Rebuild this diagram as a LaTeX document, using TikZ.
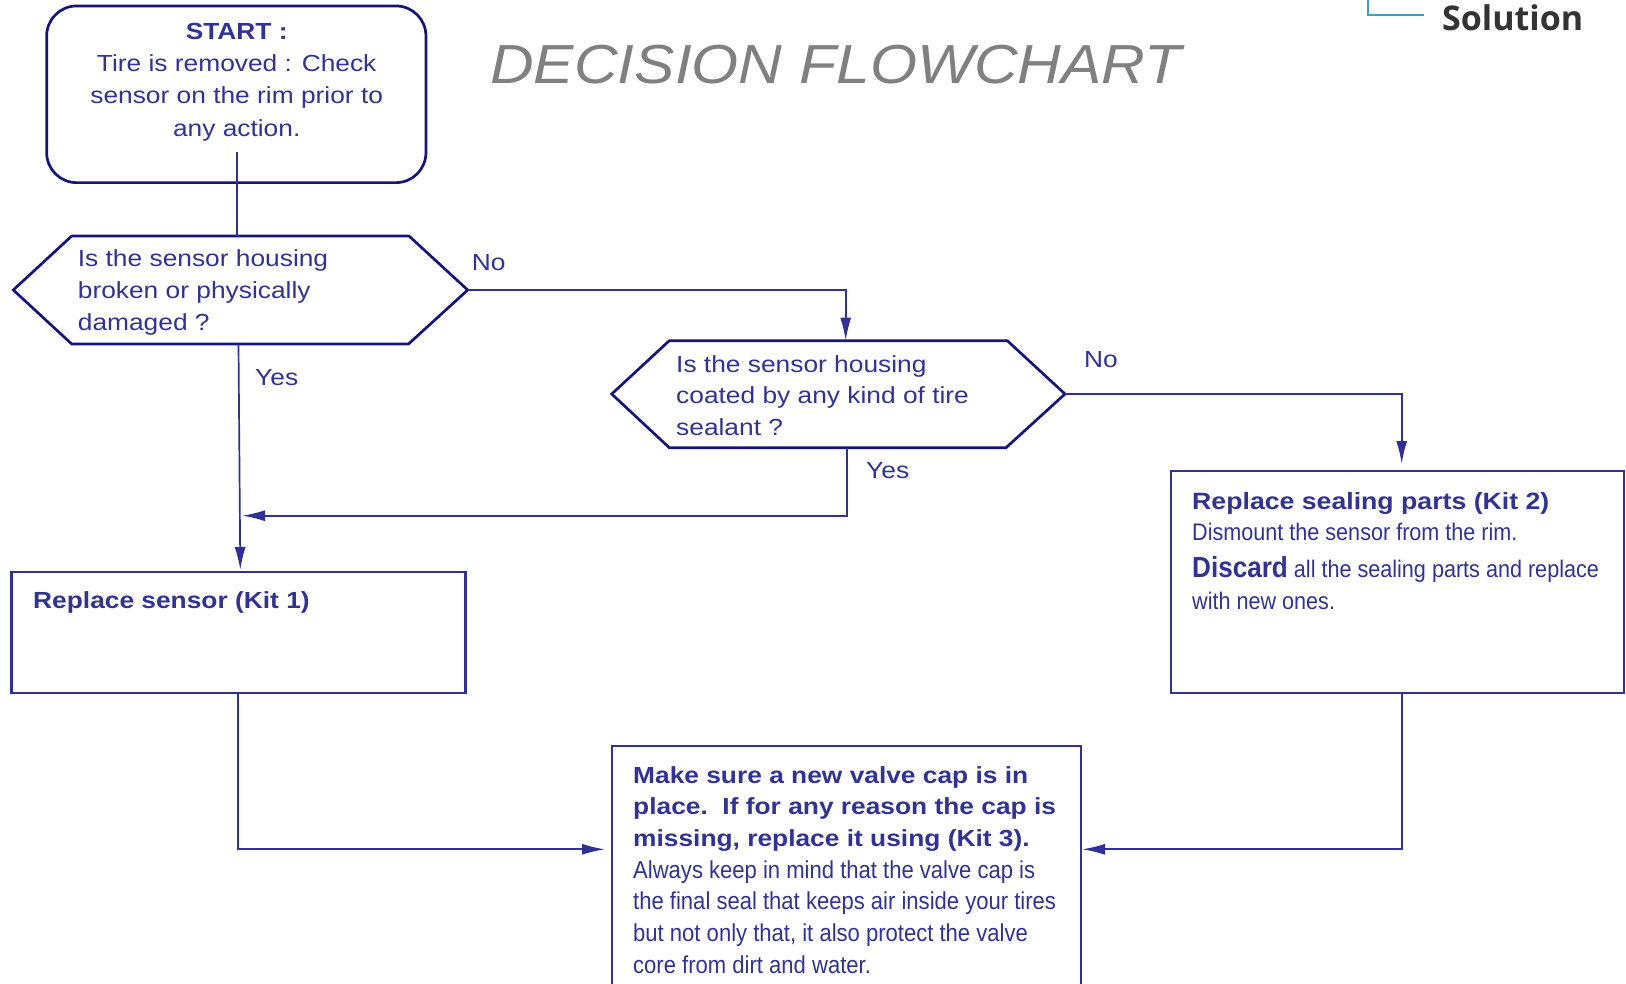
\documentclass[tikz,border=0pt]{standalone}
\usepackage{fontspec}
\setmainfont[FakeStretch=1.13]{Liberation Sans}
\newfontfamily\narrowfont[FakeStretch=0.9]{Liberation Sans}
\newfontfamily\titlefont[FakeStretch=1.1]{Liberation Sans}
\newfontfamily\logofont{Open Sans}
\usetikzlibrary{arrows.meta}

\definecolor{inkblue}{RGB}{48,50,150}
\definecolor{edgeblue}{RGB}{48,48,152}
\definecolor{hexnavy}{RGB}{20,20,125}
\definecolor{titlegray}{RGB}{128,128,128}
\definecolor{logogray}{RGB}{51,51,51}
\definecolor{logoteal}{RGB}{55,160,195}

\tikzset{
  txt/.style={inner sep=0pt, text=inkblue, font=\fontsize{23.3}{32}\selectfont},
  boxtxt/.style={txt, anchor=north west, align=left},
  actbox/.style={draw=edgeblue, line width=2.4pt, inner sep=0pt},
  hexline/.style={draw=hexnavy, line width=2.7pt, line join=miter},
  flow/.style={draw=edgeblue, line width=1.7pt},
  flowarr/.style={flow, -{Latex[length=23pt,width=11pt]}}
}

\begin{document}
\begin{tikzpicture}[x=1pt,y=-1pt]

\useasboundingbox (0,0) rectangle (1626,984);
\clip (0,0) rectangle (1626,984);

% Draw the title and the logo corner
\node[inner sep=0pt, anchor=base west, text=titlegray,
  font=\titlefont\itshape\fontsize{55}{60}\selectfont] (title) at (490,84) {DECISION FLOWCHART};
\node[inner sep=0pt, anchor=base west, text=logogray,
  font=\logofont\bfseries\fontsize{34}{40}\selectfont] (logo) at (1442,31) {Solution};
\draw[logoteal, line width=1.8pt] (1368,0) -- (1368,15) -- (1424,15);

% Draw the start box
\node[draw=hexnavy, line width=2.7pt, rounded corners=30pt, inner sep=0pt,
  minimum width=379.3pt, minimum height=176.7pt] (start) at (236.3,94.3) {};
\node[txt, anchor=north, align=center, font=\fontsize{23.3}{32.3}\selectfont] (starttxt) at (236.7,16.4)
  {\strut\textbf{START :}\\Tire is removed : Check\\sensor on the rim prior to\\any action.};
\coordinate (startdrop) at (236.7,152);

% Draw the first question
\coordinate (q1w) at (13.3,290);
\coordinate (q1nw) at (71.7,236);
\coordinate (q1ne) at (409,236);
\coordinate (q1e) at (467.7,290);
\coordinate (q1se) at (408.5,344);
\coordinate (q1sw) at (71.7,344);
\coordinate (q1top) at (236.7,236);
\coordinate (q1bot) at (238.5,344);
\draw[hexline] (q1w) -- (q1nw) -- (q1ne) -- (q1e) -- (q1se) -- (q1sw) -- cycle;
\node[boxtxt] (q1txt) at (77.7,244.3)
  {\strut Is the sensor housing\\broken or physically\\damaged ?};

% Draw the second question
\coordinate (q2w) at (611.7,394);
\coordinate (q2nw) at (669.3,340.7);
\coordinate (q2ne) at (1007.3,340.7);
\coordinate (q2e) at (1065,394);
\coordinate (q2se) at (1006,447.7);
\coordinate (q2sw) at (669.3,447.7);
\coordinate (q2top) at (845.7,340.7);
\coordinate (q2bot) at (846.7,447.7);
\draw[hexline] (q2w) -- (q2nw) -- (q2ne) -- (q2e) -- (q2se) -- (q2sw) -- cycle;
\node[boxtxt, font=\fontsize{23.3}{31.5}\selectfont] (q2txt) at (676,349.9)
  {\strut Is the sensor housing\\coated by any kind of tire\\sealant ?};

% Draw the action boxes
\node[actbox, minimum width=453.9pt, minimum height=121pt] (kit1) at (238.35,632.2) {};
\node[txt, anchor=base west, font=\bfseries\fontsize{23.3}{32}\selectfont] (kit1txt) at (33,608)
  {Replace sensor (Kit 1)};

\node[actbox, minimum width=453.3pt, minimum height=221.7pt] (kit2) at (1397.35,581.85) {};
\node[boxtxt, font=\fontsize{23.6}{31.5}\selectfont] (kit2txt) at (1192,487)
  {\strut\textbf{Replace sealing parts (Kit 2)}\\
   {\narrowfont\fontsize{24}{31.5}\selectfont Dismount the sensor from the rim.}\\[5.5pt]
   {\narrowfont\fontsize{24}{31.5}\selectfont{\bfseries\fontsize{29}{31.5}\selectfont Discard} all the sealing parts and replace}\\
   {\narrowfont\fontsize{24}{31.5}\selectfont with new ones.}};

\node[actbox, minimum width=469.1pt, minimum height=254.3pt] (final) at (846.25,872.85) {};
\node[boxtxt, font=\fontsize{23.3}{31.67}\selectfont] (finaltxt) at (633,760.8)
  {\strut\textbf{Make sure a new valve cap is in}\\
   \textbf{place.\ \ If for any reason the cap is}\\
   \textbf{missing, replace it using (Kit 3).}\\
   {\narrowfont\fontsize{24.5}{31.67}\selectfont Always keep in mind that the valve cap is}\\
   {\narrowfont\fontsize{24.5}{31.67}\selectfont the final seal that keeps air inside your tires}\\
   {\narrowfont\fontsize{24.5}{31.67}\selectfont but not only that, it also protect the valve}\\
   {\narrowfont\fontsize{24.5}{31.67}\selectfont core from dirt and water.}};

% Named ends of the connectors
\coordinate (kit1in) at (240.3,570);
\coordinate (kit2in) at (1401.7,464);
\coordinate (yesjoin) at (242,515.7);
\coordinate (kit1out) at (238.3,692.7);
\coordinate (kit2out) at (1401.7,692.7);
\coordinate (finalw) at (605,849.3);
\coordinate (finale) at (1082,849.3);

% Draw the connectors
\draw[flow] (startdrop) -- (q1top);
\draw[flowarr] (q1e) -| (q2top);
\draw[flowarr] (q2e) -| (kit2in);
\draw[flowarr] (q1bot) -- (kit1in);
\draw[flowarr] (q2bot) |- (yesjoin);
\draw[flowarr] (kit1out) |- (finalw);
\draw[flowarr] (kit2out) |- (finale);

% Label the answers
\node[txt, anchor=base west] (no1) at (471.7,271) {No};
\node[txt, anchor=base west] (yes1) at (255,385) {Yes};
\node[txt, anchor=base west] (no2) at (1084,367) {No};
\node[txt, anchor=base west] (yes2) at (866,478) {Yes};

\end{tikzpicture}
\end{document}
